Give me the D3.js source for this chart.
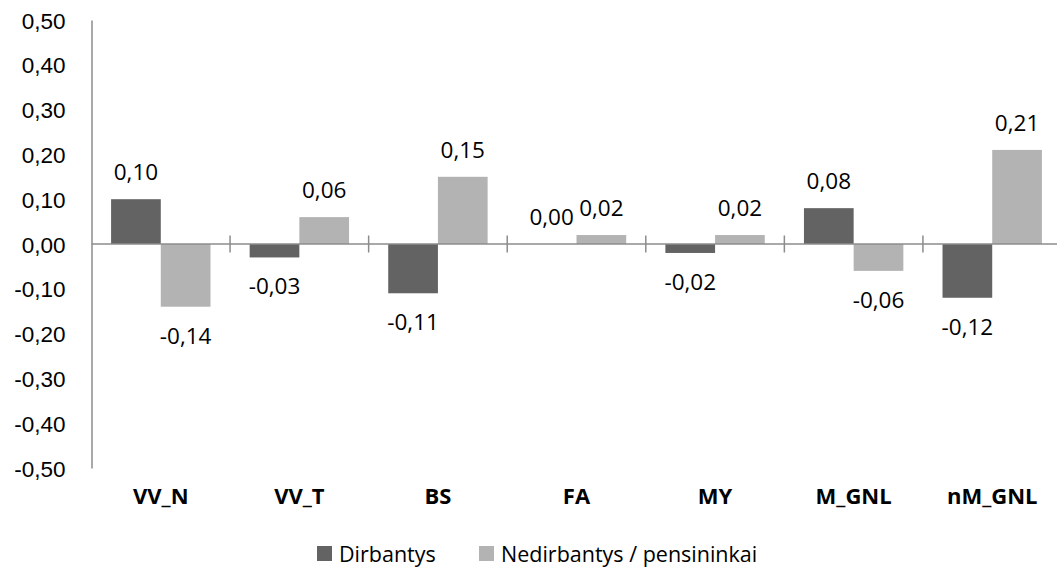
<!DOCTYPE html>
<html>
<head>
<meta charset="utf-8">
<script src="https://cdn.jsdelivr.net/npm/d3@7"></script>
<style>
  body { margin: 0; background: #fff; }
  svg { display: block; font-family: "Open Sans", sans-serif; }
</style>
</head>
<body>
<div id="chart"></div>
<script>
// Données
const categories = ['VV_N', 'VV_T', 'BS', 'FA', 'MY', 'M_GNL', 'nM_GNL'];
const dirbantys = [0.10, -0.03, -0.11, 0.00, -0.02, 0.08, -0.12];
const nedirbantys = [-0.14, 0.06, 0.15, 0.02, 0.02, -0.06, 0.21];
const seriesNames = ['Dirbantys', 'Nedirbantys / pensininkai'];
const seriesColors = ['#636363', '#b3b3b3'];
const yTicks = [-0.5, -0.4, -0.3, -0.2, -0.1, 0, 0.1, 0.2, 0.3, 0.4, 0.5];

const width = 1057, height = 567;
const fmt = d => d.toFixed(2).replace('.', ',');

const svg = d3.select('#chart')
    .append('svg')
    .attr('width', width)
    .attr('height', height);

// Échelles
const x = d3.scaleBand()
    .domain(categories)
    .range([91.5, 1061.5])
    .paddingInner(0.2827)
    .paddingOuter(0.1413);

const x1 = d3.scaleBand()
    .domain([0, 1])
    .range([0, x.bandwidth()]);

const y = d3.scaleLinear()
    .domain([-0.5, 0.5])
    .range([468, 20]);

// Axe Y
const yAxis = svg.append('g')
    .attr('transform', 'translate(91.5,0)')
    .call(d3.axisLeft(y).tickValues(yTicks).tickSize(0).tickPadding(26).tickFormat(fmt));
yAxis.select('.domain').attr('stroke', '#8c8c8c').attr('stroke-width', 1.5);
yAxis.selectAll('text').attr('font-size', '22.5px').attr('fill', '#000').attr('dy', '0.36em');

// Barres
const rows = categories.map((c, i) => ({ cat: c, values: [dirbantys[i], nedirbantys[i]] }));

const groups = svg.selectAll('.group')
    .data(rows)
    .enter()
    .append('g')
    .attr('class', 'group')
    .attr('transform', d => `translate(${x(d.cat)},0)`);

groups.selectAll('rect')
    .data(d => d.values.map((v, s) => ({ v, s })))
    .enter()
    .append('rect')
    .attr('x', d => x1(d.s))
    .attr('width', x1.bandwidth())
    .attr('y', d => y(Math.max(0, d.v)))
    .attr('height', d => Math.abs(y(d.v) - y(0)))
    .attr('fill', d => seriesColors[d.s]);

// Étiquettes de données
groups.selectAll('.lbl')
    .data(d => d.values.map((v, s) => ({ v, s })))
    .enter()
    .append('text')
    .attr('class', 'lbl')
    .attr('x', d => x1(d.s) + x1.bandwidth() / 2)
    .attr('y', d => d.v >= 0 ? y(d.v) - 19 : y(d.v) + 37)
    .attr('text-anchor', 'middle')
    .attr('font-size', '22.5px')
    .attr('fill', '#000')
    .text(d => fmt(d.v));

// Ligne zéro avec graduations
svg.append('line')
    .attr('x1', 91.5)
    .attr('x2', width)
    .attr('y1', y(0))
    .attr('y2', y(0))
    .attr('stroke', '#8c8c8c')
    .attr('stroke-width', 1.5);

svg.selectAll('.tick-x')
    .data(categories)
    .enter()
    .append('line')
    .attr('class', 'tick-x')
    .attr('x1', d => x(d) + x.bandwidth() + (x.step() - x.bandwidth()) / 2)
    .attr('x2', d => x(d) + x.bandwidth() + (x.step() - x.bandwidth()) / 2)
    .attr('y1', y(0) - 8.5)
    .attr('y2', y(0) + 8.5)
    .attr('stroke', '#8c8c8c')
    .attr('stroke-width', 1.5);

// Libellés des catégories
svg.selectAll('.cat')
    .data(categories)
    .enter()
    .append('text')
    .attr('class', 'cat')
    .attr('x', d => x(d) + x.bandwidth() / 2)
    .attr('y', 504)
    .attr('text-anchor', 'middle')
    .attr('font-size', '22px')
    .attr('font-weight', 'bold')
    .attr('fill', '#000')
    .text(d => d);

// Légende
const legendX = [317, 479];
const legend = svg.selectAll('.legend')
    .data(seriesNames)
    .enter()
    .append('g')
    .attr('class', 'legend')
    .attr('transform', (d, i) => `translate(${legendX[i]},546)`);

legend.append('rect')
    .attr('width', 15)
    .attr('height', 15)
    .attr('fill', (d, i) => seriesColors[i]);

legend.append('text')
    .attr('x', 22)
    .attr('y', 15.5)
    .attr('font-size', '21.5px')
    .attr('fill', '#000')
    .text(d => d);
</script>
</body>
</html>
